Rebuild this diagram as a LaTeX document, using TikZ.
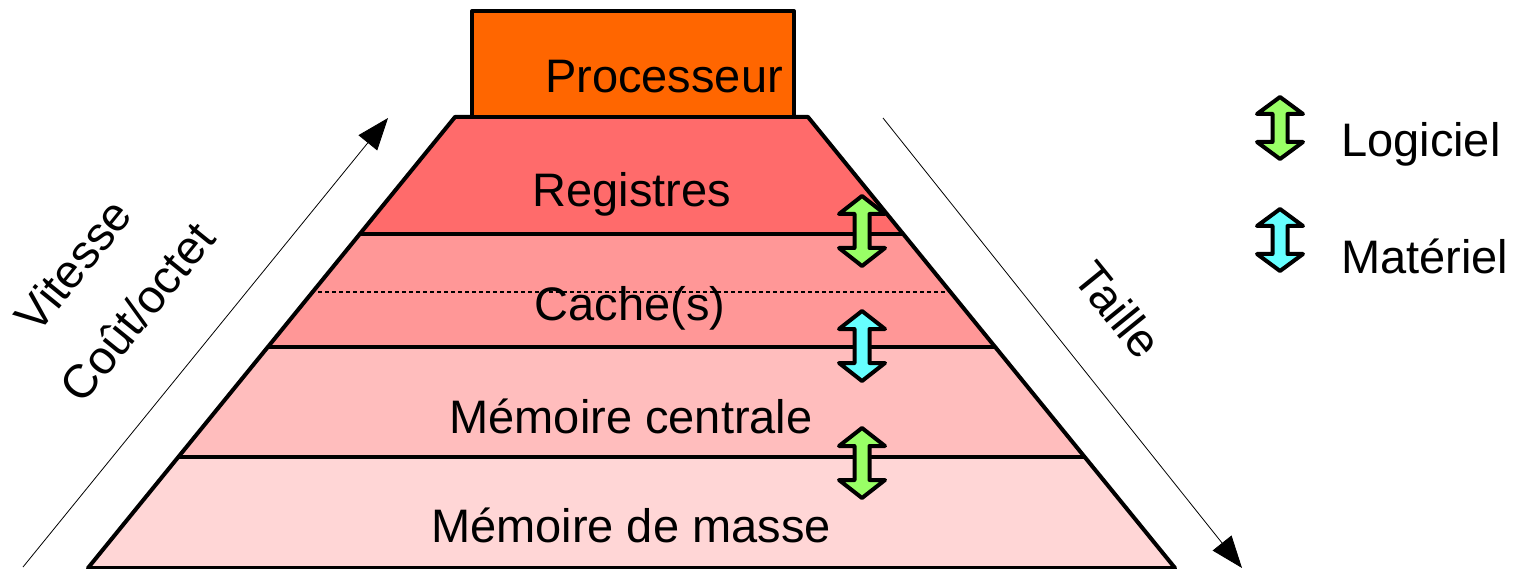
\documentclass[tikz,border=0pt]{standalone}
\usepackage{fontspec}
\setmainfont{Liberation Sans}
\usetikzlibrary{arrows.meta}
\definecolor{proc}{HTML}{FF6600}
\definecolor{reg}{HTML}{FF6B6B}
\definecolor{cachec}{HTML}{FF9797}
\definecolor{central}{HTML}{FFBDBD}
\definecolor{masse}{HTML}{FFD6D6}
\definecolor{logi}{HTML}{99FF66}
\definecolor{mat}{HTML}{66FFFF}
\begin{document}
\begin{tikzpicture}[x=1pt,y=-1pt,
  lbl/.style={font=\fontsize{47}{56}\selectfont, inner sep=0pt},
  edge/.style={line width=4pt, line join=round},
  axis/.style={line width=0.8pt, -{Triangle[length=32pt,width=24pt]}},
  pics/dbl/.style={code={
    \draw[line width=4pt, line join=round, fill=#1]
      (0,-35) -- (23,-17) -- (7.5,-17) -- (7.5,17) -- (23,17) -- (0,35)
      -- (-23,17) -- (-7.5,17) -- (-7.5,-17) -- (-23,-17) -- cycle;}},
  pics/dblsmall/.style={code={
    \draw[line width=4pt, line join=round, fill=#1]
      (0,-31) -- (23,-14) -- (7.5,-14) -- (7.5,14) -- (23,14) -- (0,31)
      -- (-23,14) -- (-7.5,14) -- (-7.5,-14) -- (-23,-14) -- cycle;}}
]
\useasboundingbox (0,0) rectangle (1514,569);

% bands
\fill[reg]     (455,117) -- (808,117) -- (903,234) -- (360,234) -- cycle;
\fill[cachec]  (360,234) -- (903,234) -- (995,347) -- (268,347) -- cycle;
\fill[central] (268,347) -- (995,347) -- (1085,457) -- (178,457) -- cycle;
\fill[masse]   (178,457) -- (1085,457) -- (1175,568) -- (88,568) -- cycle;

% dotted line inside cache band
\draw[line width=2pt, dash pattern=on 4pt off 3pt] (318,292) -- (946,292);

% outline
\draw[edge] (88,568) -- (455,117) -- (808,117) -- (1175,568) -- cycle;
\draw[edge] (360,234) -- (903,234);
\draw[edge] (268,347) -- (995,347);
\draw[edge] (178,457) -- (1085,457);

% processor
\draw[edge, fill=proc] (472,11) rectangle (794,117);
\node[lbl, anchor=base west] (proc) at (545,93) {Processeur};

% band labels
\node[lbl, anchor=base] (reg) at (632,207) {Registres};
\node[lbl, anchor=base] (cache) at (630,320) {Cache(s)};
\node[lbl, anchor=base] (mc) at (631,433) {Mémoire centrale};
\node[lbl, anchor=base] (mm) at (631,542) {Mémoire de masse};

% double arrows
\pic at (862,231) {dbl=logi};
\pic at (862,346) {dbl=mat};
\pic at (862,463) {dbl=logi};

% legend
\pic at (1280,128) {dblsmall=logi};
\pic at (1280,240) {dblsmall=mat};
\node[lbl, anchor=base west] (lg) at (1341,157) {Logiciel};
\node[lbl, anchor=base west] (mt) at (1341,273) {Matériel};

% axes
\coordinate (l0) at (23,567);
\coordinate (l1) at (388,118);
\coordinate (r0) at (883,118);
\coordinate (r1) at (1242,568);
\draw[axis] (l0) -- (l1);
\draw[axis] (r0) -- (r1);
\node[lbl, rotate=51] (vit) at (73,265) {Vitesse};
\node[lbl, rotate=51] (cout) at (137,312) {Coût/octet};
\node[lbl, rotate=-51] (taille) at (1118,310) {Taille};
\end{tikzpicture}
\end{document}
